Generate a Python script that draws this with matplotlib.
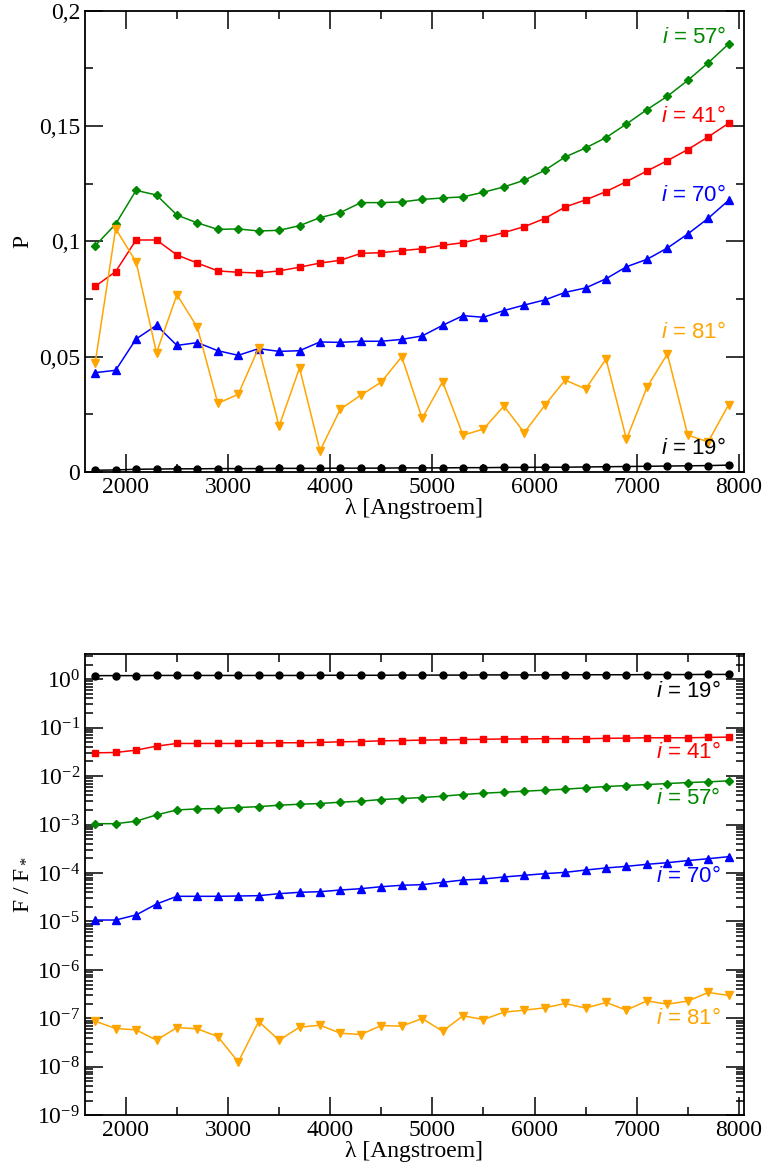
import matplotlib
matplotlib.use('Agg')
import matplotlib.pyplot as plt
from matplotlib.ticker import MultipleLocator, FuncFormatter, LogLocator, NullFormatter

plt.rcParams['font.family'] = ['Liberation Serif', 'DejaVu Serif']
plt.rcParams['mathtext.fontset'] = 'custom'
plt.rcParams['mathtext.rm'] = 'Liberation Serif'
plt.rcParams['mathtext.it'] = 'Liberation Sans:italic'

# wavelength grid (Angstroem)
wavelength = [1700 + 200 * k for k in range(32)]

# polarisation P
pol_19 = [0.0008, 0.0009, 0.0012, 0.0013, 0.0014, 0.0014, 0.0015, 0.0015,
          0.0015, 0.0016, 0.0016, 0.0016, 0.0017, 0.0017, 0.0017, 0.0018,
          0.0018, 0.0018, 0.0019, 0.0019, 0.0020, 0.0020, 0.0021, 0.0021,
          0.0022, 0.0023, 0.0024, 0.0025, 0.0026, 0.0027, 0.0028, 0.0030]
pol_41 = [0.0805, 0.0869, 0.1006, 0.1006, 0.0941, 0.0906, 0.0872, 0.0866,
          0.0863, 0.0872, 0.0888, 0.0906, 0.0918, 0.0948, 0.0951, 0.0960,
          0.0968, 0.0983, 0.0994, 0.1016, 0.1038, 0.1064, 0.1099, 0.1149,
          0.1180, 0.1216, 0.1259, 0.1305, 0.1350, 0.1398, 0.1453, 0.1512]
pol_57 = [0.0981, 0.1075, 0.1221, 0.1201, 0.1114, 0.1080, 0.1052, 0.1054,
          0.1045, 0.1048, 0.1068, 0.1103, 0.1125, 0.1168, 0.1168, 0.1171,
          0.1182, 0.1188, 0.1193, 0.1213, 0.1236, 0.1265, 0.1308, 0.1366,
          0.1405, 0.1450, 0.1509, 0.1571, 0.1629, 0.1698, 0.1774, 0.1856]
pol_70 = [0.0431, 0.0441, 0.0577, 0.0636, 0.0549, 0.0561, 0.0526, 0.0506,
          0.0535, 0.0523, 0.0526, 0.0564, 0.0562, 0.0567, 0.0567, 0.0575,
          0.0590, 0.0636, 0.0678, 0.0671, 0.0700, 0.0724, 0.0746, 0.0779,
          0.0798, 0.0838, 0.0890, 0.0922, 0.0971, 0.1032, 0.1100, 0.1178]
pol_81 = [0.0474, 0.1055, 0.0911, 0.0517, 0.0769, 0.0627, 0.0298, 0.0337,
          0.0539, 0.0199, 0.0451, 0.0092, 0.0273, 0.0333, 0.0390, 0.0500,
          0.0233, 0.0392, 0.0160, 0.0186, 0.0286, 0.0171, 0.0289, 0.0399,
          0.0360, 0.0490, 0.0142, 0.0367, 0.0512, 0.0160, 0.0131, 0.0292]

# flux ratio F / F*
flux_19 = [1.18, 1.18, 1.18, 1.19, 1.19, 1.19, 1.19, 1.19,
           1.19, 1.19, 1.19, 1.20, 1.20, 1.20, 1.20, 1.21,
           1.21, 1.21, 1.21, 1.22, 1.22, 1.22, 1.22, 1.23,
           1.23, 1.23, 1.23, 1.24, 1.24, 1.24, 1.25, 1.25]
flux_41 = [0.0301, 0.0306, 0.0342, 0.0414, 0.0470, 0.0470, 0.0470, 0.0470,
           0.0478, 0.0486, 0.0486, 0.0493, 0.0509, 0.0516, 0.0533, 0.0540,
           0.0551, 0.0558, 0.0566, 0.0574, 0.0582, 0.0582, 0.0590, 0.0590,
           0.0590, 0.0599, 0.0607, 0.0616, 0.0616, 0.0616, 0.0626, 0.0636]
flux_57 = [0.00104, 0.00104, 0.00117, 0.00158, 0.00200, 0.00210, 0.00213, 0.00224,
           0.00234, 0.00250, 0.00262, 0.00271, 0.00289, 0.00303, 0.00328, 0.00344,
           0.00360, 0.00384, 0.00416, 0.00443, 0.00464, 0.00487, 0.00511, 0.00536,
           0.00571, 0.00608, 0.00637, 0.00668, 0.00700, 0.00734, 0.00759, 0.00796]
flux_70 = [1.07e-5, 1.07e-5, 1.36e-5, 2.29e-5, 3.30e-5, 3.30e-5, 3.30e-5, 3.35e-5,
           3.40e-5, 3.74e-5, 3.99e-5, 4.11e-5, 4.45e-5, 4.74e-5, 5.21e-5, 5.57e-5,
           5.74e-5, 6.41e-5, 7.16e-5, 7.51e-5, 8.26e-5, 8.95e-5, 9.68e-5, 1.03e-4,
           1.15e-4, 1.27e-4, 1.37e-4, 1.51e-4, 1.63e-4, 1.80e-4, 1.97e-4, 2.17e-4]
flux_81 = [8.75e-8, 6.18e-8, 5.79e-8, 3.55e-8, 6.48e-8, 6.07e-8, 4.22e-8, 1.26e-8,
           8.61e-8, 3.55e-8, 6.58e-8, 7.23e-8, 4.94e-8, 4.65e-8, 7.12e-8, 6.90e-8,
           9.94e-8, 5.44e-8, 1.13e-7, 9.48e-8, 1.34e-7, 1.48e-7, 1.65e-7, 2.03e-7,
           1.63e-7, 2.13e-7, 1.48e-7, 2.30e-7, 1.96e-7, 2.27e-7, 3.43e-7, 2.97e-7]

labels = ['19', '41', '57', '70', '81']
colors = ['black', '#ff0000', '#008800', '#0000ff', '#ffa500']
markers = ['o', 's', 'D', '^', 'v']
msizes = [5, 4.5, 3.8, 5.5, 5.5]

fig = plt.figure(figsize=(7.65, 11.76), dpi=100)
ax1 = fig.add_axes([0.1111, 0.5986, 0.8614, 0.3923])
ax2 = fig.add_axes([0.1111, 0.0516, 0.8614, 0.3923])

top_series = [pol_19, pol_41, pol_57, pol_70, pol_81]
bot_series = [flux_19, flux_41, flux_57, flux_70, flux_81]
for i in range(5):
    ax1.plot(wavelength, top_series[i], color=colors[i], marker=markers[i],
             markersize=msizes[i], linewidth=1.1)
    ax2.plot(wavelength, bot_series[i], color=colors[i], marker=markers[i],
             markersize=msizes[i], linewidth=1.1)

# label positions in axes fraction
top_pos = {'57': 0.9415, '41': 0.7703, '70': 0.6005, '81': 0.3014, '19': 0.052}
bot_pos = {'19': 0.9176, '41': 0.7854, '57': 0.6878, '70': 0.5166, '81': 0.2088}
for i, lab in enumerate(labels):
    txt = r'$\mathit{i}$ = ' + lab + '°'
    ax1.text(0.9727, top_pos[lab], txt, transform=ax1.transAxes, ha='right',
             va='center', color=colors[i], fontsize=16, family='Liberation Sans')
    ax2.text(0.9646, bot_pos[lab], txt, transform=ax2.transAxes, ha='right',
             va='center', color=colors[i], fontsize=16, family='Liberation Sans')

for ax in (ax1, ax2):
    ax.set_xlim(1600, 8050)
    ax.xaxis.set_major_locator(MultipleLocator(1000))
    ax.xaxis.set_minor_locator(MultipleLocator(500))
    ax.tick_params(which='both', direction='in', top=True, right=True,
                   labelsize=17, width=1.1)
    ax.tick_params(which='major', length=13)
    ax.tick_params(which='minor', length=6)
    for sp in ax.spines.values():
        sp.set_linewidth(1.3)
    ax.set_xlabel('λ [Angstroem]', fontsize=17, labelpad=0)

ax1.set_ylim(0, 0.2)
ax1.yaxis.set_major_locator(MultipleLocator(0.05))
ax1.yaxis.set_minor_locator(MultipleLocator(0.025))
ax1.yaxis.set_major_formatter(FuncFormatter(lambda v, p: ('%g' % round(v, 3)).replace('.', ',')))
ax1.set_ylabel('P', fontsize=17)

ax2.set_yscale('log')
ax2.set_ylim(1e-9, 3.3)
ax2.yaxis.set_major_locator(LogLocator(base=10, numticks=20))
ax2.yaxis.set_minor_locator(LogLocator(base=10, subs=range(2, 10), numticks=20))
ax2.yaxis.set_minor_formatter(NullFormatter())
ax2.set_ylabel(r'F / F$_*$', fontsize=17)

fig.savefig('out.png', dpi=100)
